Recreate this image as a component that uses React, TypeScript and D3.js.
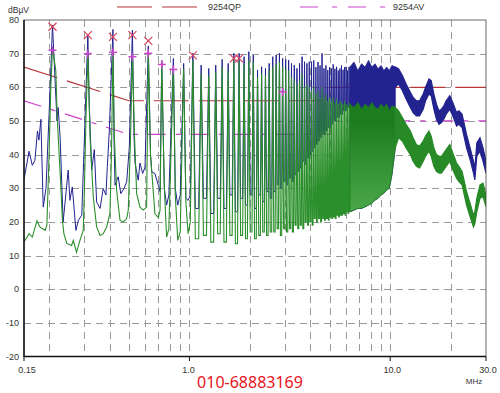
import { useEffect, useRef } from 'react';
import * as d3 from 'd3';

const W = 500;
const H = 393;

const Y_TICKS = [-20, -10, 0, 10, 20, 30, 40, 50, 60, 70, 80];
const X_GRID = [0.2, 0.3, 0.4, 0.5, 0.6, 0.7, 0.8, 0.9, 1, 2, 3, 4, 5, 6, 7, 8, 9, 10, 20];
const X_LABELS = [0.15, 1, 10, 30];
const X_LABEL_TEXT = ['0.15', '1.0', '10.0', '30.0'];

// limit lines
const QP_LIMIT_F = [0.15, 0.5, 5, 5, 30];
const QP_LIMIT_DB = [66, 56, 56, 60, 60];
const AV_LIMIT_F = [0.15, 0.5, 5, 5, 30];
const AV_LIMIT_DB = [56, 46, 46, 50, 50];

// blue (peak scan) below 1 MHz
const BLUE_LOW_F = [0.150, 0.159, 0.165, 0.170, 0.175, 0.178, 0.182, 0.187, 0.193, 0.200, 0.208, 0.215, 0.219, 0.222, 0.227, 0.235, 0.249, 0.254, 0.261, 0.272, 0.280, 0.291, 0.298, 0.312, 0.317, 0.326, 0.336, 0.345, 0.359, 0.372, 0.384, 0.390, 0.399, 0.416, 0.421, 0.426, 0.442, 0.455, 0.472, 0.487, 0.502, 0.520, 0.530, 0.536, 0.556, 0.567, 0.585, 0.601, 0.624, 0.640, 0.649, 0.673, 0.700, 0.714, 0.728, 0.750, 0.770, 0.790, 0.832, 0.850, 0.875, 0.900, 0.936, 0.960, 0.985, 1.010];
const BLUE_LOW_DB = [32.6, 41, 36.8, 38.3, 47, 44.3, 50.5, 24.4, 30, 52, 78.5, 60, 50, 54, 45, 20, 35.4, 26.4, 30.4, 17.5, 20.5, 22, 40, 75.8, 55, 35.4, 41.5, 25.9, 24, 29.9, 28, 36.4, 47, 77.2, 45, 30.9, 33.4, 28.4, 29.9, 31.9, 42.3, 77, 45, 37.5, 32.4, 37.5, 34.4, 36.3, 72.3, 40, 34.9, 34.4, 30.9, 29, 68, 30, 25, 28, 68.6, 30, 25, 28, 67.1, 27, 26.4, 28];

// green (average) below 1 MHz
const GREEN_LOW_F = [0.150, 0.159, 0.165, 0.174, 0.180, 0.191, 0.195, 0.200, 0.204, 0.208, 0.216, 0.220, 0.228, 0.233, 0.237, 0.245, 0.259, 0.264, 0.274, 0.285, 0.296, 0.300, 0.305, 0.312, 0.320, 0.332, 0.345, 0.359, 0.372, 0.387, 0.402, 0.409, 0.416, 0.423, 0.434, 0.451, 0.468, 0.487, 0.496, 0.509, 0.520, 0.533, 0.546, 0.567, 0.589, 0.612, 0.624, 0.640, 0.673, 0.700, 0.714, 0.728, 0.750, 0.770, 0.790, 0.832, 0.850, 0.875, 0.900, 0.936, 0.960, 0.985, 1.010];
const GREEN_LOW_DB = [14, 16.5, 15.5, 20.3, 18.5, 17.5, 19, 40, 60, 71.6, 65, 50, 32.4, 20.5, 16.5, 13.6, 13, 14.5, 11, 14.5, 17.5, 30, 50, 70, 45, 27.4, 18.5, 16, 16.5, 18.5, 22.5, 40, 70.4, 45, 29.4, 20.5, 20, 21, 23.5, 45, 69.8, 45, 28.4, 24.4, 23.5, 24.4, 70.5, 40, 22.5, 21.3, 23.5, 67, 30, 15.5, 18, 66, 28, 14.5, 17, 65.5, 26, 16.5, 20];

// harmonic comb 1.04 - 6.24 MHz: peak and following valley of each spike
const HARM_F = [1.04, 1.144, 1.248, 1.352, 1.456, 1.56, 1.664, 1.768, 1.872, 1.976, 2.08, 2.184, 2.288, 2.392, 2.496, 2.6, 2.704, 2.808, 2.912, 3.016, 3.12, 3.224, 3.328, 3.432, 3.536, 3.64, 3.744, 3.848, 3.952, 4.056, 4.16, 4.264, 4.368, 4.472, 4.576, 4.68, 4.784, 4.888, 4.992, 5.096, 5.2, 5.304, 5.408, 5.512, 5.616, 5.72, 5.824, 5.928, 6.032, 6.136, 6.24];
const BLUE_PK = [70.1, 66.6, 65.6, 66.6, 68.3, 67.1, 70.1, 70.1, 69.1, 70.6, 69.6, 65.1, 66.1, 65.6, 67.1, 69.1, 69.6, 70.1, 68.6, 68.3, 68.1, 67.1, 66.6, 65.6, 67.1, 69.1, 67.6, 67.1, 67.6, 67.6, 68, 66, 67.5, 66.5, 70.1, 65.6, 66.5, 65.1, 66, 65.6, 66.8, 65.5, 66.1, 65, 65.6, 66.5, 65.2, 66, 66.1, 65, 66.1];
const BLUE_VL = [24, 27, 22.5, 27, 24, 28, 23, 27, 25, 28, 24, 28, 26, 29, 27, 29, 31, 30, 32, 31, 33, 32, 34, 35, 36, 38, 37, 39, 40, 41, 42, 43, 44, 45, 46, 46, 47, 48, 48, 49, 50, 50, 51, 51, 52, 52, 53, 53, 53, 54, 54];
const GREEN_PK = [68, 64, 63.5, 64.5, 66, 65, 68, 68, 67, 68, 67.5, 63, 64, 63.5, 65, 66, 67, 67.5, 66, 65.5, 65, 63, 62, 61, 62, 64, 60, 61, 60, 59, 60, 58, 59, 57, 60, 57, 58, 56, 57, 56, 57, 55.5, 56.5, 55, 56, 55.5, 55, 56, 55, 54.5, 55.5];
const GREEN_VL = [15, 16, 14, 16.5, 14, 16, 13.5, 16, 15, 17, 15, 16, 17, 16, 17, 17, 18, 16, 18, 17, 18, 17, 19, 18, 19, 18, 20, 19, 20, 19, 21, 20, 21, 20, 21, 20.5, 21, 20.5, 21.5, 21, 21.5, 21, 22, 21.5, 22, 22, 22.5, 22, 23, 22.5, 23];

// dense comb 6.3 - 10.6 MHz, drawn as envelopes
const DENSE_F = [6.3, 6.6, 6.9, 7.2, 7.5, 7.8, 8.1, 8.4, 8.7, 9.0, 9.3, 9.6, 9.9, 10.2, 10.6];
const DENSE_BLUE_TOP = [66, 67.5, 65, 67, 66, 68, 66, 67, 65.5, 66.5, 65, 66, 65, 66.5, 66];
const DENSE_GREEN_TOP = [55, 54, 55.5, 53.5, 55, 54, 55.5, 54, 53.5, 55, 54, 55, 53, 54.5, 54];
const DENSE_GREEN_BOT = [23, 23.5, 24, 24, 24.5, 25, 25.5, 26.5, 27, 28, 28.5, 29.5, 30, 34, 42];

// broadband part 10.6 - 30 MHz (noisy traces as bands)
const HF_F = [10.6, 11, 11.5, 12, 12.6, 13, 13.5, 14, 14.6, 15, 15.6, 16, 16.5, 17, 17.5, 18, 18.5, 19, 19.8, 20.5, 21.4, 22, 22.8, 23.3, 24, 25, 26, 26.4, 27, 28, 29, 30];
const HF_BLUE_TOP = [66, 65.5, 63.5, 61, 58.5, 57, 56, 56, 58, 60, 62.5, 62, 58, 55, 53, 53.5, 54.5, 56, 57.5, 55.5, 52.5, 53, 52, 49.5, 46, 42, 38, 36, 43.5, 45, 42, 38];
const HF_BLUE_BOT = [60, 61, 59, 56.5, 54, 52.5, 51.5, 51.5, 53.5, 56, 58, 57.5, 53.5, 50.5, 49, 49.5, 50.5, 52, 53.5, 51.5, 48.5, 49, 48, 45.5, 42, 38.5, 34.5, 32.5, 39.5, 41, 38, 34.5];
const HF_GREEN_TOP = [54, 53, 51, 49, 47, 45, 43, 42.5, 44, 45.5, 47, 45.5, 42, 40, 39.5, 39.5, 40.5, 41.5, 43, 40.5, 37.5, 36.5, 35, 32.5, 29, 25.5, 22, 23, 27, 31, 31.5, 28];
const HF_GREEN_BOT = [42, 45, 44, 42, 40, 38, 36.5, 36, 38, 39.5, 41, 39.5, 36.5, 35, 34.5, 34.5, 35.5, 36.5, 38, 35.5, 33, 32, 31, 28.5, 25, 21.5, 18.5, 19.5, 23, 27, 27.5, 24.5];

// markers
const QP_MARK_F = [0.208, 0.312, 0.416, 0.52, 0.624, 1.04, 1.664, 1.768];
const QP_MARK_DB = [78, 75.5, 75, 75.5, 73.8, 69.5, 68.6, 68.6];
const AV_MARK_F = [0.208, 0.312, 0.416, 0.52, 0.624, 0.728, 0.832, 2.912];
const AV_MARK_DB = [71, 70, 70.4, 69.1, 70.1, 66.8, 65.3, 58.7];

const BLUE = '#232390';
const GREEN = '#2b8f2b';
const FONT = '"Liberation Sans", Arial, sans-serif';

type Pt = [number, number];
const zip = (f: number[], v: number[]): Pt[] => f.map((d, i) => [d, v[i]]);

// peak, then a flat valley between this harmonic and the next
const spikes = (f: number[], pk: number[], vl: number[]): Pt[] => {
  const pts: Pt[] = [];
  f.forEach((d, i) => {
    pts.push([d, pk[i]]);
    const next = i < f.length - 1 ? f[i + 1] : (d * d) / f[i - 1];
    const a = Math.log(d);
    const b = Math.log(next);
    pts.push([Math.exp(a + (b - a) * 0.3), vl[i]]);
    pts.push([Math.exp(a + (b - a) * 0.7), vl[i]]);
  });
  return pts;
};

export default function App() {
  const svgRef = useRef<SVGSVGElement>(null);

  useEffect(() => {
    if (!svgRef.current) return;
    const svg = d3.select(svgRef.current);
    svg.selectAll('*').remove();

    const x = d3.scaleLog().domain([0.15, 30]).range([24, 486]);
    const y = d3.scaleLinear().domain([-20, 80]).range([356.5, 20]);

    svg.append('rect').attr('width', W).attr('height', H).attr('fill', '#fff');

    const defs = svg.append('defs');
    defs
      .append('clipPath')
      .attr('id', 'plotClip')
      .append('rect')
      .attr('x', 24)
      .attr('y', 20)
      .attr('width', 462)
      .attr('height', 336.5);
    const grad = defs
      .append('linearGradient')
      .attr('id', 'denseGreen')
      .attr('gradientUnits', 'userSpaceOnUse')
      .attr('x1', 0)
      .attr('x2', 0)
      .attr('y1', y(50))
      .attr('y2', y(22));
    grad.append('stop').attr('offset', 0).attr('stop-color', '#1d7c1d');
    grad.append('stop').attr('offset', 1).attr('stop-color', '#4caa4c');

    // grid
    const gridV = svg.append('g').attr('stroke', '#9a9a9a').attr('stroke-dasharray', '7,5');
    gridV
      .selectAll('line')
      .data(X_GRID)
      .join('line')
      .attr('x1', (d) => Math.round(x(d)) + 0.5)
      .attr('x2', (d) => Math.round(x(d)) + 0.5)
      .attr('y1', y(80))
      .attr('y2', y(-20));
    const gridH = svg.append('g').attr('stroke', '#9a9a9a').attr('stroke-dasharray', '7,5');
    gridH
      .selectAll('line')
      .data(Y_TICKS.filter((d) => d > -20 && d < 80))
      .join('line')
      .attr('x1', x(0.15))
      .attr('x2', x(30))
      .attr('y1', (d) => Math.round(y(d)) + 0.5)
      .attr('y2', (d) => Math.round(y(d)) + 0.5);

    const plot = svg.append('g').attr('clip-path', 'url(#plotClip)');
    const line = d3
      .line<Pt>()
      .x((d) => x(d[0]))
      .y((d) => y(d[1]));

    // limits
    plot
      .append('path')
      .attr('d', line(zip(QP_LIMIT_F, QP_LIMIT_DB)))
      .attr('fill', 'none')
      .attr('stroke', '#b8383c')
      .attr('stroke-width', 1.2)
      .attr('stroke-dasharray', '35,10');
    plot
      .append('path')
      .attr('d', line(zip(AV_LIMIT_F, AV_LIMIT_DB)))
      .attr('fill', 'none')
      .attr('stroke', '#cc44cc')
      .attr('stroke-width', 1.2)
      .attr('stroke-dasharray', '18,10,5,10');

    const band = (f: number[], top: number[], bot: number[]) =>
      d3
        .area<number>()
        .x((i) => x(f[i]))
        .y0((i) => y(bot[i]))
        .y1((i) => y(top[i]))(d3.range(f.length));

    // blue trace
    plot
      .append('path')
      .attr('d', line([...zip(BLUE_LOW_F, BLUE_LOW_DB), ...spikes(HARM_F, BLUE_PK, BLUE_VL)]))
      .attr('fill', 'none')
      .attr('stroke', BLUE)
      .attr('stroke-width', 1);
    plot
      .append('path')
      .attr('d', band(DENSE_F, DENSE_BLUE_TOP, DENSE_GREEN_BOT))
      .attr('fill', BLUE)
      .attr('stroke', BLUE)
      .attr('stroke-width', 0.8);
    plot
      .append('path')
      .attr('d', band(HF_F, HF_BLUE_TOP, HF_BLUE_BOT))
      .attr('fill', BLUE)
      .attr('stroke', BLUE)
      .attr('stroke-width', 1.2);

    // green trace
    plot
      .append('path')
      .attr('d', line([...zip(GREEN_LOW_F, GREEN_LOW_DB), ...spikes(HARM_F, GREEN_PK, GREEN_VL)]))
      .attr('fill', 'none')
      .attr('stroke', GREEN)
      .attr('stroke-width', 1.1);
    plot
      .append('path')
      .attr('d', band(DENSE_F, DENSE_GREEN_TOP, DENSE_GREEN_BOT))
      .attr('fill', 'url(#denseGreen)')
      .attr('stroke', '#1d7c1d')
      .attr('stroke-width', 0.8);
    plot
      .append('path')
      .attr('d', band(HF_F, HF_GREEN_TOP, HF_GREEN_BOT))
      .attr('fill', '#278a27')
      .attr('stroke', '#278a27')
      .attr('stroke-width', 1.2);

    // markers
    const qp = svg.append('g').attr('stroke', '#d9435f').attr('stroke-width', 1.2);
    QP_MARK_F.forEach((f, i) => {
      const cx = x(f);
      const cy = y(QP_MARK_DB[i]);
      qp.append('line').attr('x1', cx - 4).attr('y1', cy - 4).attr('x2', cx + 4).attr('y2', cy + 4);
      qp.append('line').attr('x1', cx - 4).attr('y1', cy + 4).attr('x2', cx + 4).attr('y2', cy - 4);
    });
    const av = svg.append('g').attr('stroke', '#cc44cc').attr('stroke-width', 1.5);
    AV_MARK_F.forEach((f, i) => {
      const cx = x(f);
      const cy = y(AV_MARK_DB[i]);
      av.append('line').attr('x1', cx - 4).attr('y1', cy).attr('x2', cx + 4).attr('y2', cy);
      av.append('line').attr('x1', cx).attr('y1', cy - 4).attr('x2', cx).attr('y2', cy + 4);
    });

    // frame
    svg
      .append('rect')
      .attr('x', 24)
      .attr('y', 20)
      .attr('width', 462)
      .attr('height', 336.5)
      .attr('fill', 'none')
      .attr('stroke', '#444')
      .attr('stroke-width', 0.8);
    svg.append('line').attr('x1', 24).attr('x2', 24).attr('y1', 20).attr('y2', 357).attr('stroke', '#111').attr('stroke-width', 1.5);
    svg.append('line').attr('x1', 24).attr('x2', 486).attr('y1', 356.5).attr('y2', 356.5).attr('stroke', '#111').attr('stroke-width', 1.5);

    // y axis labels
    svg
      .append('g')
      .selectAll('text')
      .data(Y_TICKS)
      .join('text')
      .attr('x', 19)
      .attr('y', (d) => y(d) + 3)
      .attr('text-anchor', 'end')
      .attr('font-family', FONT)
      .attr('font-size', 9)
      .attr('fill', '#333')
      .text((d) => d);

    // x axis ticks and labels
    svg
      .append('g')
      .selectAll('line')
      .data(X_LABELS)
      .join('line')
      .attr('x1', (d) => x(d))
      .attr('x2', (d) => x(d))
      .attr('y1', 356.5)
      .attr('y2', 361)
      .attr('stroke', '#111');
    svg
      .append('g')
      .selectAll('text')
      .data(X_LABELS)
      .join('text')
      .attr('x', (d, i) => (i === 0 ? x(d) + 3 : i === 1 ? x(d) - 1 : x(d) + 2))
      .attr('y', 373)
      .attr('text-anchor', 'middle')
      .attr('font-family', FONT)
      .attr('font-size', 9)
      .attr('fill', '#333')
      .text((d, i) => X_LABEL_TEXT[i]);
    svg.append('text').attr('x', 474).attr('y', 384).attr('text-anchor', 'middle').attr('font-family', FONT).attr('font-size', 8).attr('fill', '#333').text('MHz');
    svg.append('text').attr('x', 8).attr('y', 13).attr('font-family', FONT).attr('font-size', 8.5).attr('fill', '#333').text('dBµV');

    // legend
    svg.append('line').attr('x1', 117).attr('x2', 197).attr('y1', 7).attr('y2', 7).attr('stroke', '#b8383c').attr('stroke-width', 1.2).attr('stroke-dasharray', '35,10');
    svg.append('text').attr('x', 208).attr('y', 10).attr('font-family', FONT).attr('font-size', 9).attr('fill', '#333').text('9254QP');
    svg.append('line').attr('x1', 300).attr('x2', 385).attr('y1', 7).attr('y2', 7).attr('stroke', '#cc44cc').attr('stroke-width', 1.2).attr('stroke-dasharray', '18,14,5,11');
    svg.append('text').attr('x', 393).attr('y', 10).attr('font-family', FONT).attr('font-size', 9).attr('fill', '#333').text('9254AV');

    // phone watermark
    svg
      .append('text')
      .attr('x', 250)
      .attr('y', 388)
      .attr('text-anchor', 'middle')
      .attr('font-family', '"Noto Sans", sans-serif')
      .attr('font-size', 16)
      .attr('fill', '#e8141c')
      .text('010-68883169');
  }, []);

  return (
    <svg
      ref={svgRef}
      width={W}
      height={H}
      style={{ position: 'absolute', left: 0, top: 0, display: 'block' }}
    />
  );
}
